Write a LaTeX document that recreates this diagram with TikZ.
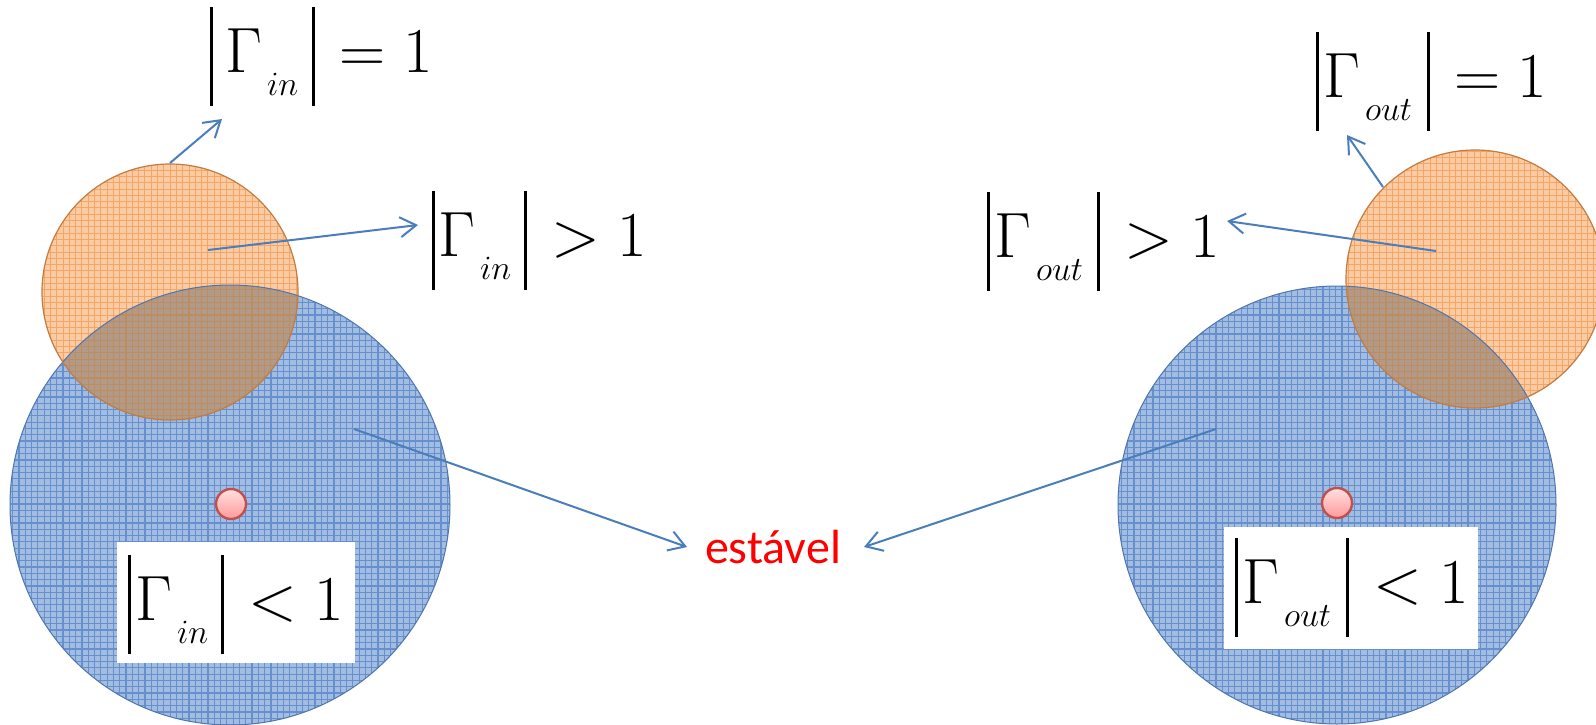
\RequirePackage{fix-cm}
\documentclass[tikz,border=0pt]{standalone}
\usepackage[no-math]{fontspec}
\newfontfamily\calibrifont{Carlito}
\usetikzlibrary{arrows.meta,calc}
\definecolor{bluefill}{HTML}{A2BCE2}
\definecolor{bluegrid}{HTML}{6690CD}
\definecolor{blueedge}{HTML}{4F75AE}
\definecolor{orfill}{HTML}{FBCCA4}
\definecolor{orgrid}{HTML}{F5A566}
\definecolor{oredge}{HTML}{C27C40}
\definecolor{ovfill}{HTML}{B19A88}
\definecolor{ovgrid}{HTML}{BC8C63}
\definecolor{arrowblue}{HTML}{4A7EBB}
\definecolor{dotedge}{HTML}{C0504D}
\newcommand\absG[3]{\rule[-17pt]{1.6pt}{49.5pt}\hspace{#1}$\Gamma$\hspace{2.5pt}\raisebox{-11.5pt}{\fontsize{17}{17}\selectfont$#2$}\hspace{#3}\rule[-17pt]{1.6pt}{49.5pt}\hspace{3pt}}
\newcommand\patcirc[5]{% center, radius, fill, grid, grid width
  \begin{scope}
    \clip (#1) circle[radius=#2];
    \fill[#3] (#1) circle[radius=#2];
    \draw[#4, line width=#5, step=3.15pt] ($(#1)+(-#2,#2)$) grid ($(#1)+(#2,-#2)$);
  \end{scope}}
\begin{document}
\begin{tikzpicture}[x=0.5pt,y=-0.5pt,
  lbl/.style={inner sep=0pt, outer sep=0pt, anchor=base west, font=\fontsize{32}{38}\selectfont},
  arr/.style={draw=arrowblue, line width=1pt, -{Straight Barb[length=8pt,width=10pt]}},
  whitebox/.style={fill=white, draw=none},
  reddot/.style={draw=dotedge, line width=1.2pt, top color=red!12, bottom color=red!40, circle, minimum size=15pt, inner sep=0pt}]
\useasboundingbox (0,0) rectangle (1596,724);
\fill[white] (0,0) rectangle (1596,724);
% ---------- left circles ----------
\coordinate (LB) at (230,505);
\coordinate (LO) at (170,292);
\patcirc{LB}{220}{bluefill}{bluegrid}{0.6pt}
\patcirc{LO}{128}{orfill}{orgrid}{0.5pt}
\begin{scope}
  \clip (LB) circle[radius=220];
  \patcirc{LO}{128}{ovfill}{ovgrid}{0.55pt}
\end{scope}
\draw[blueedge, line width=0.5pt] (LB) circle[radius=220];
\draw[oredge, line width=0.6pt] (LO) circle[radius=128];
% ---------- right circles ----------
\coordinate (RB) at (1337,505);
\coordinate (RO) at (1475,279);
\patcirc{RB}{219}{bluefill}{bluegrid}{0.6pt}
\patcirc{RO}{129}{orfill}{orgrid}{0.5pt}
\begin{scope}
  \clip (RB) circle[radius=219];
  \patcirc{RO}{129}{ovfill}{ovgrid}{0.55pt}
\end{scope}
\draw[blueedge, line width=0.5pt] (RB) circle[radius=219];
\draw[oredge, line width=0.6pt] (RO) circle[radius=129];
% ---------- white boxes and dots ----------
\fill[whitebox] (117,542) rectangle (355,663);
\fill[whitebox] (1224,527) rectangle (1478,649);
\node[reddot] (dotL) at (231,504) {};
\node[reddot] (dotR) at (1337,503) {};
% ---------- labels ----------
\node[lbl] (gin1) at (210,72) {\absG{6pt}{in}{7pt}${}=1$};
\node[lbl] (gin2) at (432,256) {\absG{1.5pt}{in}{6.5pt}${}>1$};
\node[lbl] (gin3) at (128,620) {\absG{2pt}{in}{6.5pt}${}<1$};
\node[lbl] (gout1) at (1316,97) {\absG{2pt}{out}{7.5pt}${}=1$};
\node[lbl] (gout2) at (987,257) {\absG{2pt}{out}{7pt}${}>1$};
\node[lbl] (gout3) at (1235,603) {\absG{2pt}{out}{7.5pt}${}<1$};
\node[inner sep=0pt, anchor=base, text=red, font=\calibrifont\fontsize{24}{28}\selectfont] (est) at (773,563) {estável};
% ---------- arrow end points ----------
\coordinate (a1s) at (170,163);  \coordinate (a1e) at (222,119);
\coordinate (a2s) at (208,250);  \coordinate (a2e) at (418,225);
\coordinate (a3s) at (354,429);  \coordinate (a3e) at (687,547);
\coordinate (b1s) at (1383,187); \coordinate (b1e) at (1347,135);
\coordinate (b2s) at (1436,251); \coordinate (b2e) at (1227,221);
\coordinate (b3s) at (1216,429); \coordinate (b3e) at (864,547);
\draw[arr] (a1s) -- (a1e);
\draw[arr] (a2s) -- (a2e);
\draw[arr] (a3s) -- (a3e);
\draw[arr] (b1s) -- (b1e);
\draw[arr] (b2s) -- (b2e);
\draw[arr] (b3s) -- (b3e);
\end{tikzpicture}
\end{document}
